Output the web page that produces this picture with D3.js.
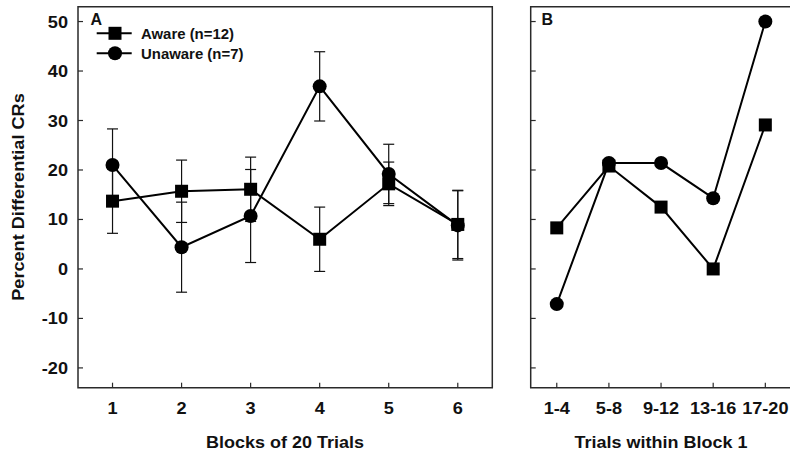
<!DOCTYPE html>
<html><head><meta charset="utf-8">
<script src="https://cdn.jsdelivr.net/npm/d3@7/dist/d3.min.js"></script>
<style>
html,body{margin:0;padding:0;background:#fff;}
svg text{font-family:"Liberation Sans",Arial,sans-serif;font-weight:bold;fill:#111;}
</style></head>
<body><svg id="c" width="790" height="452"></svg>
<script>
// ---- data ----
const blocks = ["1","2","3","4","5","6"];
const awareA = [13.7, 15.7, 16.1, 6.0, 17.2, 9.0];
const awareAErr = [6.5, 6.3, 6.5, 6.5, 4.4, 6.9];
const unawareA = [21.0, 4.4, 10.7, 36.9, 19.2, 8.8];
const unawareAErr = [7.3, 9.1, 9.4, 7.0, 6.0, 7.0];
const trials = ["1-4","5-8","9-12","13-16","17-20"];
const awareB = [8.3, 20.8, 12.5, 0, 29.1];
const unawareB = [-7.1, 21.4, 21.4, 14.3, 50];
const yTicks = [-20,-10,0,10,20,30,40,50];
const legendLabels = ["Aware (n=12)", "Unaware (n=7)"];

const svg = d3.select("#c");
const yTop = 6.7, yBottom = 387.7;
const y = d3.scaleLinear().domain([-24, 53]).range([yBottom, yTop]);
const xA = d3.scaleLinear().domain([0.5, 6.5]).range([78, 492.3]);
const xB = d3.scaleLinear().domain([0.5, 5.5]).range([530.7, 791.4]);
const SX = 1.1;

function label(g, x, yy, txt, size, anchor, sx, rot){
  const t = g.append("g").attr("transform", `translate(${x},${yy})` + (rot?` rotate(${rot})`:"") + ` scale(${sx},1)`);
  t.append("text").attr("text-anchor", anchor).attr("font-size", size).text(txt);
}

function panel(x, cats, frameRight, showYLabels){
  const g = svg.append("g");
  const [x0, x1] = x.range();
  const r = Math.min(x1, 790);
  g.append("path")
   .attr("d", frameRight ? `M${x0},${yTop}H${x1}V${yBottom}H${x0}Z` : `M${r+2},${yTop}H${x0}V${yBottom}H${r+2}`)
   .attr("fill","none").attr("stroke","#2a2a2a").attr("stroke-width",1.5);
  yTicks.forEach(v=>{
    g.append("line").attr("x1",x0).attr("x2",x0+5).attr("y1",y(v)).attr("y2",y(v))
     .attr("stroke","#2a2a2a").attr("stroke-width",1.2);
    if(showYLabels) label(g, x0-10, y(v)+6, v, 16.5, "end", SX);
  });
  cats.forEach((c,i)=>{
    g.append("line").attr("x1",x(i+1)).attr("x2",x(i+1)).attr("y1",yBottom).attr("y2",yBottom-5)
     .attr("stroke","#2a2a2a").attr("stroke-width",1.2);
    label(g, x(i+1), 414, c, 16.5, "middle", SX);
  });
  return g;
}

const gA = panel(xA, blocks, true, true);
const gB = panel(xB, trials, false, false);

function errbars(g, x, vals, errs){
  vals.forEach((v,i)=>{
    const cx = x(i+1);
    g.append("line").attr("x1",cx).attr("x2",cx).attr("y1",y(v-errs[i])).attr("y2",y(v+errs[i]))
     .attr("stroke","#111").attr("stroke-width",1.2);
    [v-errs[i], v+errs[i]].forEach(e=>{
      g.append("line").attr("x1",cx-5.5).attr("x2",cx+5.5).attr("y1",y(e)).attr("y2",y(e))
       .attr("stroke","#111").attr("stroke-width",1.2);
    });
  });
}
function series(g, x, vals, shape){
  const line = d3.line().x((d,i)=>x(i+1)).y(d=>y(d));
  g.append("path").attr("d", line(vals)).attr("fill","none").attr("stroke","#000").attr("stroke-width",2);
  vals.forEach((v,i)=>{
    if(shape==="square") g.append("rect").attr("x",x(i+1)-6.5).attr("y",y(v)-6.5).attr("width",13).attr("height",13).attr("fill","#000");
    else g.append("circle").attr("cx",x(i+1)).attr("cy",y(v)).attr("r",7).attr("fill","#000");
  });
}

errbars(gA, xA, awareA, awareAErr);
errbars(gA, xA, unawareA, unawareAErr);
series(gA, xA, awareA, "square");
series(gA, xA, unawareA, "circle");
series(gB, xB, awareB, "square");
series(gB, xB, unawareB, "circle");

label(svg, 90.5, 25.3, "A", 16, "start", 1.0);
label(svg, 541.5, 24.8, "B", 16, "start", 1.0);

[["square",33.3],["circle",53.3]].forEach(([s,ly],i)=>{
  svg.append("line").attr("x1",96.7).attr("x2",131.7).attr("y1",ly).attr("y2",ly).attr("stroke","#000").attr("stroke-width",2);
  if(s==="square") svg.append("rect").attr("x",115-6.5).attr("y",ly-6.5).attr("width",13).attr("height",13).attr("fill","#000");
  else svg.append("circle").attr("cx",115).attr("cy",ly).attr("r",7).attr("fill","#000");
  label(svg, 141, ly+5.2, legendLabels[i], 14.5, "start", 1.03);
});

label(svg, 285, 448, "Blocks of 20 Trials", 16.5, "middle", 1.09);
label(svg, 661, 448, "Trials within Block 1", 16.5, "middle", 1.09);
label(svg, 24, 197, "Percent Differential CRs", 16.5, "middle", 1.1, -90);
</script></body></html>
